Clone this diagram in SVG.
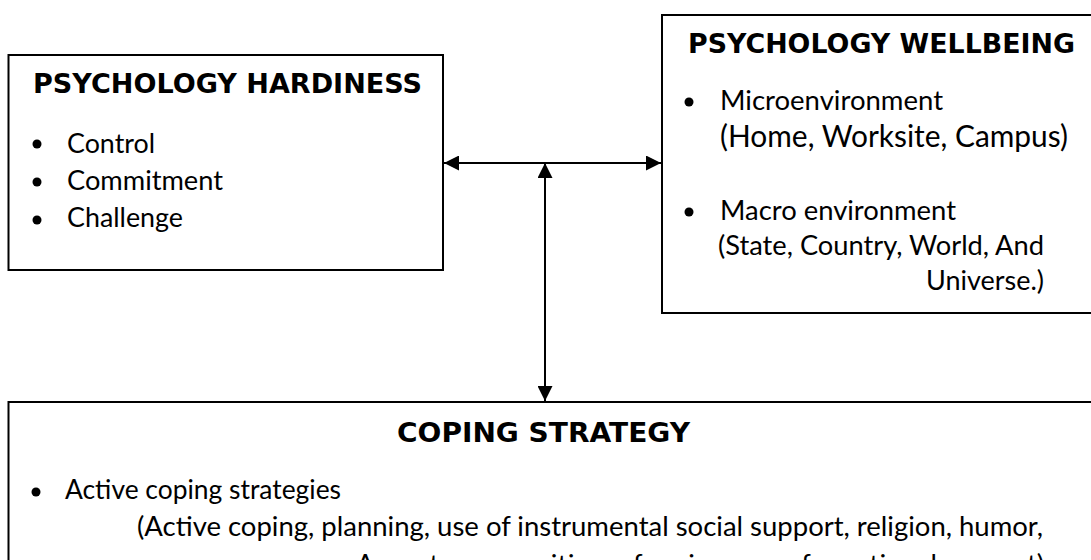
<svg xmlns="http://www.w3.org/2000/svg" width="1091" height="560" viewBox="0 0 1091 560">
<style>
.box{fill:#fff;stroke:#000;stroke-width:2}
.h{font-family:"DejaVu Sans","Liberation Sans",sans-serif;font-weight:bold;font-size:26px;fill:#000}
.t{font-family:Lato,"Liberation Sans",sans-serif;font-size:27px;fill:#000}
.big{font-size:30px}
.conn{stroke:#000;stroke-width:2;fill:none}
</style>
<defs>
<marker id="ah" viewBox="0 0 15 15" refX="15" refY="7.5" markerWidth="15" markerHeight="15" markerUnits="userSpaceOnUse" orient="auto-start-reverse">
<path d="M0,0 L15,7.5 L0,15 Z" fill="#000"/>
</marker>
</defs>
<rect width="1091" height="560" fill="#fff"/>
<g id="hardiness">
<rect class="box" x="8.5" y="55" width="434.5" height="215"/>
<text class="h" x="33" y="93" textLength="389" lengthAdjust="spacingAndGlyphs">PSYCHOLOGY HARDINESS</text>
<circle cx="37" cy="144" r="4.5"/>
<circle cx="37" cy="182" r="4.5"/>
<circle cx="37" cy="220" r="4.5"/>
<text class="t" x="67" y="153" textLength="88" lengthAdjust="spacingAndGlyphs">Control</text>
<text class="t" x="67" y="190" textLength="156" lengthAdjust="spacingAndGlyphs">Commitment</text>
<text class="t" x="67" y="227" textLength="116" lengthAdjust="spacingAndGlyphs">Challenge</text>
</g>
<g id="wellbeing">
<rect class="box" x="662" y="15" width="440" height="298"/>
<text class="h" x="688" y="53" textLength="387" lengthAdjust="spacingAndGlyphs">PSYCHOLOGY WELLBEING</text>
<circle cx="689" cy="102" r="4.5"/>
<circle cx="689" cy="212" r="4.5"/>
<text class="t" x="720" y="110" textLength="223" lengthAdjust="spacingAndGlyphs">Microenvironment</text>
<text class="t big" x="720" y="147" textLength="348" lengthAdjust="spacingAndGlyphs">(Home, Worksite, Campus)</text>
<text class="t" x="720" y="220" textLength="236" lengthAdjust="spacingAndGlyphs">Macro environment</text>
<text class="t" x="718" y="255" textLength="326" lengthAdjust="spacingAndGlyphs">(State, Country, World, And</text>
<text class="t" x="926" y="290" textLength="118" lengthAdjust="spacingAndGlyphs">Universe.)</text>
</g>
<g id="coping">
<rect class="box" x="8.5" y="402" width="1100" height="200"/>
<text class="h" x="397" y="442" textLength="293" lengthAdjust="spacingAndGlyphs">COPING STRATEGY</text>
<circle cx="36" cy="492" r="4.5"/>
<text class="t" x="65" y="499" textLength="276" lengthAdjust="spacingAndGlyphs">Active coping strategies</text>
<text class="t" x="137" y="536" textLength="906" lengthAdjust="spacingAndGlyphs">(Active coping, planning, use of instrumental social support, religion, humor,</text>
<text class="t" x="356" y="574" textLength="688" lengthAdjust="spacingAndGlyphs">Acceptance, positive reframing, use of emotional support)</text>
</g>
<g id="connectors">
<line class="conn" x1="444" y1="163" x2="661" y2="163" marker-start="url(#ah)" marker-end="url(#ah)"/>
<line class="conn" x1="545" y1="163" x2="545" y2="401" marker-start="url(#ah)" marker-end="url(#ah)"/>
</g>
</svg>
